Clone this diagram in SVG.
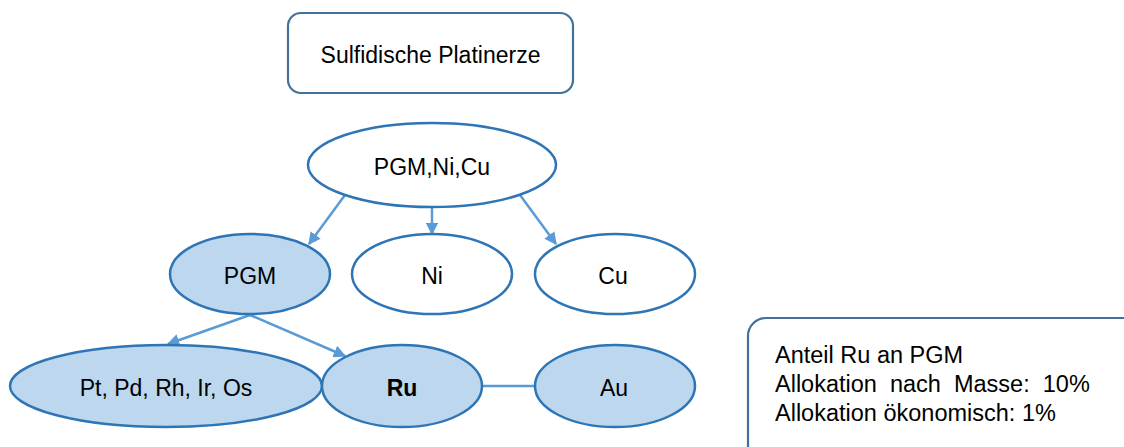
<svg xmlns="http://www.w3.org/2000/svg" width="1124" height="447" viewBox="0 0 1124 447">
<style>
.box{fill:#fff;stroke:#41719C;stroke-width:2.2}
.el{fill:#fff;stroke:#2E75B6;stroke-width:2.5}
.fl{fill:#BDD7EE}
.t{font-family:"Liberation Sans",Arial,sans-serif;font-size:23px;fill:#000;text-anchor:middle;dominant-baseline:central}
.tl{font-family:"Liberation Sans",Arial,sans-serif;font-size:23.5px;fill:#000}
.c{stroke:#5B9BD5;stroke-width:2.5;fill:none}
</style>
<defs>
<marker id="ah" viewBox="0 0 10 10" refX="9" refY="5" markerWidth="5" markerHeight="5" orient="auto" markerUnits="strokeWidth">
<path d="M0,0 L10,5 L0,10 z" fill="#5B9BD5"/>
</marker>
</defs>
<g id="connectors">
<line class="c" x1="345" y1="195" x2="309" y2="244" marker-end="url(#ah)"/>
<line class="c" x1="432" y1="207" x2="432" y2="234" marker-end="url(#ah)"/>
<line class="c" x1="520" y1="195" x2="556" y2="244" marker-end="url(#ah)"/>
<line class="c" x1="250" y1="315" x2="168" y2="344" marker-end="url(#ah)"/>
<line class="c" x1="250" y1="315" x2="345" y2="356" marker-end="url(#ah)"/>
<line class="c" x1="482" y1="386" x2="535" y2="386"/>
</g>
<g id="n_erz">
<rect class="box" x="288" y="13" width="285" height="80" rx="13"/>
<text class="t" x="430.5" y="55">Sulfidische Platinerze</text>
</g>
<g id="n_pgmnicu">
<ellipse class="el" cx="432" cy="165" rx="124" ry="42"/>
<text class="t" x="432" y="167">PGM,Ni,Cu</text>
</g>
<g id="n_pgm">
<ellipse class="el fl" cx="250" cy="274" rx="80" ry="40"/>
<text class="t" x="250" y="276">PGM</text>
</g>
<g id="n_ni">
<ellipse class="el" cx="432" cy="274" rx="80" ry="40"/>
<text class="t" x="432" y="276">Ni</text>
</g>
<g id="n_cu">
<ellipse class="el" cx="615" cy="274" rx="80" ry="40"/>
<text class="t" x="613" y="276">Cu</text>
</g>
<g id="n_pt">
<ellipse class="el fl" cx="166" cy="386" rx="156" ry="41"/>
<text class="t" x="166" y="388">Pt, Pd, Rh, Ir, Os</text>
</g>
<g id="n_ru">
<ellipse class="el fl" cx="402" cy="386" rx="80" ry="41"/>
<text class="t" x="402" y="388" font-weight="bold">Ru</text>
</g>
<g id="n_au">
<ellipse class="el fl" cx="615" cy="386" rx="80" ry="41"/>
<text class="t" x="614" y="388">Au</text>
</g>
<g id="n_info">
<rect class="box" x="748" y="318" width="400" height="160" rx="18"/>
<text class="tl" x="775" y="363" xml:space="preserve">Anteil Ru an PGM</text>
<text class="tl" x="775" y="392" xml:space="preserve">Allokation  nach  Masse:  10%</text>
<text class="tl" x="775" y="421" xml:space="preserve">Allokation ökonomisch: 1%</text>
</g>
</svg>
